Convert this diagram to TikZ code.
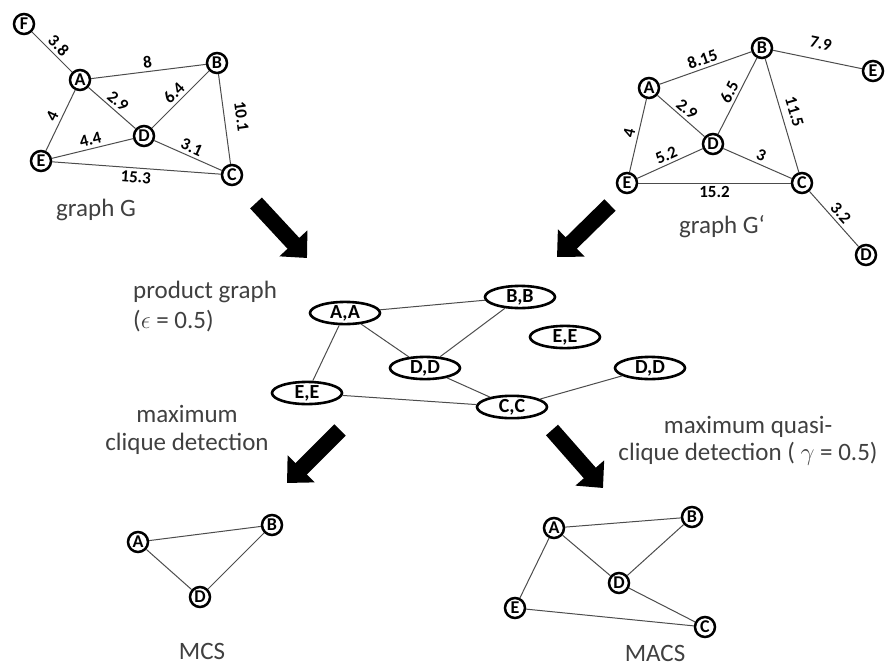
\documentclass[tikz,border=0pt]{standalone}
\usepackage{fontspec}
\setmainfont{Carlito}
\usetikzlibrary{shapes.geometric,arrows.meta}

\begin{document}
\begin{tikzpicture}[x=1pt,y=-1pt,
    vertex/.style={circle,draw=black,line width=2.5pt,fill=white,
      minimum size=20pt,inner sep=0pt,font=\fontsize{18}{18}\selectfont\bfseries},
    pair/.style={ellipse,draw=black,line width=2.6pt,fill=white,
      minimum width=70pt,minimum height=18pt,inner sep=0pt,
      font=\fontsize{20}{20}\selectfont\bfseries},
    edge/.style={draw=black!70,line width=1pt},
    weight/.style={sloped,above=2pt,inner sep=1pt,
      font=\fontsize{17}{17}\selectfont\bfseries},
    caption/.style={text=black!75,font=\fontsize{25}{30}\selectfont,inner sep=0pt},
    bigarrow/.style={line width=16pt,-{Triangle[width=37pt,length=20pt]}}]

  \useasboundingbox (0,0) rectangle (885,666);

  % graph G
  \node[vertex] (gF) at (24,24)   {F};
  \node[vertex] (gA) at (80,80)   {A};
  \node[vertex] (gB) at (217,63)  {B};
  \node[vertex] (gD) at (144,136) {D};
  \node[vertex] (gE) at (41,161)  {E};
  \node[vertex] (gC) at (232,175) {C};

  \draw[edge] (gF) -- node[weight] {3.8} (gA);
  \draw[edge] (gA) -- node[weight] {8} (gB);
  \draw[edge] (gA) -- node[weight] {2.9} (gD);
  \draw[edge] (gD) -- node[weight] {6.4} (gB);
  \draw[edge] (gE) -- node[weight] {4} (gA);
  \draw[edge] (gE) -- node[weight] {4.4} (gD);
  \draw[edge] (gD) -- node[weight] {3.1} (gC);
  \draw[edge] (gB) -- node[weight,above=8pt] {10.1} (gC);
  \draw[edge] (gE) -- node[weight,below=4pt] {15.3} (gC);

  \node[caption,anchor=base] (capG) at (96,216) {graph G};

  % graph G'
  \node[vertex] (hA)  at (649,88)  {A};
  \node[vertex] (hB)  at (762,48)  {B};
  \node[vertex] (hE2) at (873,71)  {E};
  \node[vertex] (hD)  at (713,144) {D};
  \node[vertex] (hE)  at (627,183) {E};
  \node[vertex] (hC)  at (802,183) {C};
  \node[vertex] (hD2) at (866,255) {D};

  \draw[edge] (hA) -- node[weight] {8.15} (hB);
  \draw[edge] (hB) -- node[weight,above=7pt] {7.9} (hE2);
  \draw[edge] (hA) -- node[weight] {2.9} (hD);
  \draw[edge] (hD) -- node[weight] {6.5} (hB);
  \draw[edge] (hB) -- node[weight,above=4pt] {11.5} (hC);
  \draw[edge] (hE) -- node[weight] {4} (hA);
  \draw[edge] (hE) -- node[weight] {5.2} (hD);
  \draw[edge] (hD) -- node[weight] {3} (hC);
  \draw[edge] (hE) -- node[weight,below=4pt] {15.2} (hC);
  \draw[edge] (hC) -- node[weight] {3.2} (hD2);

  \node[caption,anchor=base] (capH) at (722,233) {graph G‘};

  % product graph
  \node[pair] (pAA)  at (345,313) {A,A};
  \node[pair] (pBB)  at (520,297) {B,B};
  \node[pair] (pEE2) at (565,337) {E,E};
  \node[pair] (pDD)  at (425,368) {D,D};
  \node[pair] (pDD2) at (650,368) {D,D};
  \node[pair] (pEE)  at (307,393) {E,E};
  \node[pair] (pCC)  at (512,407) {C,C};

  \draw[edge] (pAA) -- (pBB);
  \draw[edge] (pAA) -- (pDD);
  \draw[edge] (pAA) -- (pEE);
  \draw[edge] (pDD) -- (pBB);
  \draw[edge] (pDD) -- (pCC);
  \draw[edge] (pEE) -- (pCC);
  \draw[edge] (pCC) -- (pDD2);

  \node[caption,anchor=base west,align=left] (capP) at (133,328)
    {product graph\\($\epsilon$ = 0.5)};

  % MCS
  \node[vertex] (mA) at (138,542) {A};
  \node[vertex] (mB) at (272,525) {B};
  \node[vertex] (mD) at (200,597) {D};

  \draw[edge] (mA) -- (mB);
  \draw[edge] (mA) -- (mD);
  \draw[edge] (mD) -- (mB);

  \node[caption,anchor=base,align=center,font=\fontsize{25}{28}\selectfont]
    (capMC) at (187,450) {maximum\\clique detection};
  \node[caption,anchor=base] (capMCS) at (202,659) {MCS};

  % MACS
  \node[vertex] (qA) at (554,528) {A};
  \node[vertex] (qB) at (692,517) {B};
  \node[vertex] (qD) at (619,583) {D};
  \node[vertex] (qE) at (515,608) {E};
  \node[vertex] (qC) at (705,627) {C};

  \draw[edge] (qA) -- (qB);
  \draw[edge] (qA) -- (qD);
  \draw[edge] (qA) -- (qE);
  \draw[edge] (qD) -- (qB);
  \draw[edge] (qD) -- (qC);
  \draw[edge] (qE) -- (qC);

  \node[caption,anchor=base,align=center,font=\fontsize{25}{27}\selectfont]
    (capMQ) at (748,460) {maximum quasi-\\clique detection ( $\gamma$ = 0.5)};
  \node[caption,anchor=base] (capMACS) at (655,661) {MACS};

  % arrows
  \coordinate (a1s) at (256,203); \coordinate (a1e) at (307,258);
  \coordinate (a2s) at (610,205); \coordinate (a2e) at (557,257);
  \coordinate (a3s) at (340,430); \coordinate (a3e) at (287,483);
  \coordinate (a4s) at (552,430); \coordinate (a4e) at (603,488);

  \draw[bigarrow] (a1s) -- (a1e);
  \draw[bigarrow] (a2s) -- (a2e);
  \draw[bigarrow] (a3s) -- (a3e);
  \draw[bigarrow] (a4s) -- (a4e);
\end{tikzpicture}
\end{document}
